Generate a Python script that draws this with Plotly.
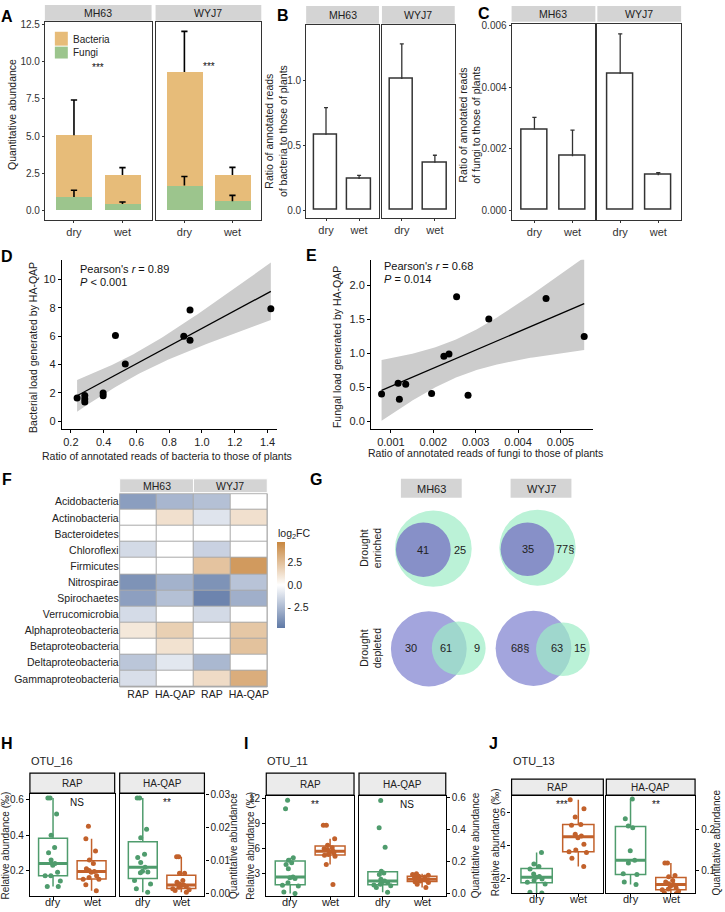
import numpy as np
import plotly.graph_objects as go

W, H = 725, 912
FONT = "Liberation Sans, Arial, Helvetica, sans-serif"

# ======================= DATA =======================
conditions = ["dry", "wet"]
cultivars = ["MH63", "WYJ7"]

# Panel A (stacked: fungi at bottom, bacteria on top; sd of total / fungi)
a_mh63_fungi = [0.89, 0.42]
a_mh63_fungi_sd = [0.45, 0.13]
a_mh63_bacteria = [4.16, 1.96]
a_mh63_total_sd = [2.38, 0.49]
a_wyj7_fungi = [1.67, 0.60]
a_wyj7_fungi_sd = [0.60, 0.40]
a_wyj7_bacteria = [7.65, 1.78]
a_wyj7_total_sd = [2.74, 0.51]
a_yticks = [0, 2.5, 5, 7.5, 10, 12.5]

# Panel B
b_mh63 = [0.58, 0.24]
b_mh63_sd = [0.21, 0.028]
b_wyj7 = [1.01, 0.365]
b_wyj7_sd = [0.27, 0.058]
b_yticks = [0, 0.5, 1.0]

# Panel C
c_mh63 = [0.00263, 0.00176]
c_mh63_sd = [0.00039, 0.00085]
c_wyj7 = [0.00444, 0.00114]
c_wyj7_sd = [0.00130, 0.00008]
c_yticks = [0, 0.002, 0.004, 0.006]

# Panel D
d_x = [0.238, 0.285, 0.285, 0.285, 0.397, 0.397, 0.472, 0.532, 0.889, 0.927, 0.927, 1.42]
d_y = [1.64, 1.82, 1.57, 1.36, 1.99, 1.80, 6.05, 4.04, 6.00, 7.85, 5.72, 7.94]
d_xticks = [0.2, 0.4, 0.6, 0.8, 1.0, 1.2, 1.4]
d_yticks = [0, 2, 4, 6, 8, 10]

# Panel E
e_x = [0.00078, 0.00117, 0.00120, 0.00135, 0.00196, 0.00225, 0.00237, 0.00255, 0.00282, 0.00331, 0.00466, 0.00556]
e_y = [0.404, 0.56, 0.326, 0.545, 0.409, 0.959, 0.993, 1.835, 0.384, 1.508, 1.81, 1.251]
e_xticks = [0.001, 0.002, 0.003, 0.004, 0.005]
e_yticks = [0, 0.5, 1.0, 1.5, 2.0]

# Panel F (log2FC)
f_phyla = ["Acidobacteria", "Actinobacteria", "Bacteroidetes", "Chloroflexi", "Firmicutes",
           "Nitrospirae", "Spirochaetes", "Verrucomicrobia", "Alphaproteobacteria",
           "Betaproteobacteria", "Deltaproteobacteria", "Gammaproteobacteria"]
f_methods = ["RAP", "HA-QAP", "RAP", "HA-QAP"]
f_mh63_rap = [-3.4, 0, 0, -1.3, 0, -3.8, -3.35, -1.25, 0.9, 0, -2.0, -1.15]
f_mh63_haqap = [-2.55, 1.2, 0, 0, 0, -2.7, -2.2, 0, 1.85, 1.15, -0.85, 0]
f_wyj7_rap = [-2.2, -0.95, 0, -1.6, 2.35, -3.8, -4.3, -1.3, 0, 0, -2.5, 1.4]
f_wyj7_haqap = [0, 1.2, 0, 0, 3.95, -2.1, -2.8, 0, 2.2, 2.4, 0, 3.2]
f_cbar_ticks = [-2.5, 0, 2.5]

# Panel G (Venn counts)
g_rows = ["Drought<br>enriched", "Drought<br>depleted"]
g_mh63_enriched = ["41", "25"]
g_wyj7_enriched = ["35", "77§"]
g_mh63_depleted = ["30", "61", "9"]
g_wyj7_depleted = ["68§", "63", "15"]

# Panels H, I, J (box plots)
h_title, i_title, j_title = "OTU_16", "OTU_11", "OTU_13"
h_rap_dry = [0.61, 0.61, 0.52, 0.40, 0.33, 0.30, 0.26, 0.24, 0.23, 0.19, 0.17, 0.17, 0.14, 0.11, 0.11]
h_rap_wet = [0.45, 0.38, 0.31, 0.26, 0.24, 0.21, 0.20, 0.195, 0.19, 0.17, 0.16, 0.15, 0.15, 0.12, 0.085]
h_haqap_dry = [0.029, 0.029, 0.0195, 0.017, 0.012, 0.011, 0.0095, 0.008, 0.0068, 0.0066, 0.0064, 0.004, 0.003, 0.0015, 0.0005]
h_haqap_wet = [0.0112, 0.0112, 0.0062, 0.0062, 0.004, 0.0035, 0.003, 0.0027, 0.0025, 0.0022, 0.002, 0.0015, 0.0012, 0.001, 0.0005]
i_rap_dry = [11.8, 10.8, 4.9, 4.6, 4.3, 4.1, 3.6, 2.6, 2.5, 2.4, 1.9, 1.6, 1.5, 0.8, 0.6]
i_rap_wet = [8.8, 8.8, 7.2, 6.4, 6.1, 6.0, 5.9, 5.7, 5.6, 5.5, 5.3, 5.2, 5.1, 4.1, 1.7]
i_haqap_dry = [0.58, 0.41, 0.29, 0.14, 0.13, 0.12, 0.09, 0.08, 0.075, 0.07, 0.06, 0.055, 0.05, 0.04, 0.01]
i_haqap_wet = [0.125, 0.12, 0.115, 0.11, 0.105, 0.10, 0.095, 0.09, 0.088, 0.085, 0.08, 0.075, 0.07, 0.06, 0.04]
j_rap_dry = [3.6, 2.9, 2.75, 2.6, 2.3, 2.15, 2.1, 2.0, 1.9, 1.8, 1.7, 1.2, 1.15]
j_rap_wet = [6.8, 6.25, 5.75, 5.3, 5.25, 4.7, 4.6, 4.5, 4.1, 3.75, 3.65, 3.6, 3.25, 2.75]
j_haqap_dry = [0.274, 0.226, 0.208, 0.204, 0.148, 0.125, 0.118, 0.092, 0.09, 0.072, 0.066]
j_haqap_wet = [0.118, 0.118, 0.088, 0.085, 0.076, 0.072, 0.068, 0.066, 0.062, 0.058, 0.055, 0.053, 0.05, 0.046, 0.044]
sig_h = ["NS", "**"]
sig_i = ["**", "NS"]
sig_j = ["***", "**"]
sig_a = ["***", "***"]

# ======================= STYLE =======================
ORANGE_A = "#e7bc79"
GREEN_A = "#9cc58d"
DRY_COL = "#4f9c6d"
WET_COL = "#c2612b"
STRIP = "#d4d4d4"

fig = go.Figure()
axes = {}
shapes = []
annots = []


def ax_names(i):
    return ("xaxis" if i == 1 else f"xaxis{i}", "yaxis" if i == 1 else f"yaxis{i}",
            "x" if i == 1 else f"x{i}", "y" if i == 1 else f"y{i}")


def set_axes(i, xpx, ypx, xkw, ykw):
    xn, yn, xr, yr = ax_names(i)
    axes[xn] = dict(domain=[xpx[0] / W, xpx[1] / W], anchor=yr, **xkw)
    axes[yn] = dict(domain=[1 - ypx[1] / H, 1 - ypx[0] / H], anchor=xr, **ykw)
    return xr, yr


def ann(text, x, y, size=10, xanchor="center", yanchor="middle", angle=0, bold=False, color="#1a1a1a"):
    if bold:
        text = f"<b>{text}</b>"
    annots.append(dict(text=text, x=x / W, y=1 - y / H, xref="paper", yref="paper",
                       showarrow=False, xanchor=xanchor, yanchor=yanchor, textangle=angle,
                       font=dict(size=size, family=FONT, color=color)))


def rect(x0, x1, y0, y1, fill, line_color=None, lw=0, layer="above"):
    shapes.append(dict(type="rect", xref="paper", yref="paper", x0=x0 / W, x1=x1 / W,
                       y0=1 - y1 / H, y1=1 - y0 / H, fillcolor=fill, layer=layer,
                       line=dict(color=line_color if line_color else fill, width=lw)))


def circle(cx, cy, r, fill, opacity=1.0):
    shapes.append(dict(type="circle", xref="paper", yref="paper", x0=(cx - r) / W, x1=(cx + r) / W,
                       y0=1 - (cy + r) / H, y1=1 - (cy - r) / H, fillcolor=fill, opacity=opacity,
                       line=dict(width=0), layer="above"))


def framed(**kw):
    d = dict(showline=True, mirror=True, linecolor="#333333", linewidth=1, showgrid=False,
             zeroline=False, ticks="outside", ticklen=2, tickcolor="#333333",
             tickfont=dict(size=10, color="#333333", family=FONT))
    d.update(kw)
    return d


def errbar(xs, base, sd, half):
    X, Y = [], []
    for x, b, s in zip(xs, base, sd):
        X += [x, x, None, x - half, x + half, None]
        Y += [b, b + s, None, b + s, b + s, None]
    return X, Y


xpos = [1, 2]
cat_x = dict(range=[0.4, 2.6], tickvals=xpos, ticktext=conditions)
XFONT = dict(size=11, color="#333", family=FONT)

# ======================= PANEL A =======================
a_yr = [-0.668, 12.70]
a_panels = [(1, (45, 152), a_mh63_fungi, a_mh63_fungi_sd, a_mh63_bacteria, a_mh63_total_sd),
            (2, (156, 262), a_wyj7_fungi, a_wyj7_fungi_sd, a_wyj7_bacteria, a_wyj7_total_sd)]
for k, (i, xp, fu, fusd, ba, tsd) in enumerate(a_panels):
    ykw = framed(range=a_yr, tickvals=a_yticks, ticktext=[f"{v:.1f}" for v in a_yticks])
    if k == 1:
        ykw.update(showticklabels=False, ticks="")
    xr, yr = set_axes(i, xp, (17, 217), framed(**cat_x, tickfont=XFONT), ykw)
    fig.add_trace(go.Bar(x=xpos, y=fu, width=0.74, marker=dict(color=GREEN_A, line=dict(width=0)),
                         xaxis=xr, yaxis=yr, showlegend=False))
    fig.add_trace(go.Bar(x=xpos, y=ba, base=fu, width=0.74, marker=dict(color=ORANGE_A, line=dict(width=0)),
                         xaxis=xr, yaxis=yr, showlegend=False))
    tot = [f + b for f, b in zip(fu, ba)]
    ex, ey = errbar(xpos, tot, tsd, 0.065)
    fig.add_trace(go.Scatter(x=ex, y=ey, mode="lines", line=dict(color="black", width=1.6),
                             xaxis=xr, yaxis=yr, showlegend=False, hoverinfo="skip"))
    ex, ey = errbar(xpos, fu, fusd, 0.065)
    fig.add_trace(go.Scatter(x=ex, y=ey, mode="lines", line=dict(color="black", width=1.6),
                             xaxis=xr, yaxis=yr, showlegend=False, hoverinfo="skip"))
    rect(xp[0], xp[1], 0, 16, STRIP)
    ann(cultivars[k], (xp[0] + xp[1]) / 2, 8.5, size=10.5, color="#222")
ann(sig_a[0], 98, 63, size=10, color="#111")
ann(sig_a[1], 210, 62, size=10, color="#111")
# legend of A
rect(55, 68, 27, 41, ORANGE_A)
rect(55, 68, 42, 54, GREEN_A)
ann("Bacteria", 71, 34.5, size=10, xanchor="left", color="#222")
ann("Fungi", 71, 48, size=10, xanchor="left", color="#222")
ann("Quantitative abundance", 12, 110, size=10.5, angle=-90, color="#222")

# ======================= PANEL B =======================
b_yr = [-0.061, 1.427]
for k, (i, xp, vals, sd) in enumerate([(3, (307, 380), b_mh63, b_mh63_sd), (4, (383, 456), b_wyj7, b_wyj7_sd)]):
    ykw = framed(range=b_yr, tickvals=b_yticks, ticktext=[f"{v:.1f}" for v in b_yticks])
    if k == 1:
        ykw.update(showticklabels=False, ticks="")
    xr, yr = set_axes(i, xp, (20, 215), framed(**cat_x, tickfont=XFONT), ykw)
    ex, ey = errbar(xpos, vals, sd, 0.06)
    fig.add_trace(go.Scatter(x=ex, y=ey, mode="lines", line=dict(color="#333333", width=1.3),
                             xaxis=xr, yaxis=yr, showlegend=False, hoverinfo="skip"))
    fig.add_trace(go.Bar(x=xpos, y=vals, width=0.7, marker=dict(color="white", line=dict(color="#333333", width=1.5)),
                         xaxis=xr, yaxis=yr, showlegend=False))
    rect(xp[0], xp[1], 1, 19, STRIP)
    ann(cultivars[k], (xp[0] + xp[1]) / 2, 10, size=10.5, color="#222")
ann("Ratio of annotated reads<br>of bacteria to those of plants", 277, 127, size=10.5, angle=-90, color="#222")

# ======================= PANEL C =======================
c_yr = [-0.00032, 0.006065]
for k, (i, xp, vals, sd) in enumerate([(5, (513, 597), c_mh63, c_mh63_sd), (6, (599, 683), c_wyj7, c_wyj7_sd)]):
    ykw = framed(range=c_yr, tickvals=c_yticks, ticktext=[f"{v:.3f}" for v in c_yticks])
    if k == 1:
        ykw.update(showticklabels=False, ticks="")
    xr, yr = set_axes(i, xp, (19, 217), framed(**cat_x, tickfont=XFONT), ykw)
    ex, ey = errbar(xpos, vals, sd, 0.055)
    fig.add_trace(go.Scatter(x=ex, y=ey, mode="lines", line=dict(color="#333333", width=1.3),
                             xaxis=xr, yaxis=yr, showlegend=False, hoverinfo="skip"))
    fig.add_trace(go.Bar(x=xpos, y=vals, width=0.7, marker=dict(color="white", line=dict(color="#333333", width=1.5)),
                         xaxis=xr, yaxis=yr, showlegend=False))
    rect(xp[0], xp[1], 1, 17, STRIP)
    ann(cultivars[k], (xp[0] + xp[1]) / 2, 9, size=10.5, color="#222")
ann("Ratio of annotated reads<br>of fungi to those of plants", 471, 121, size=10.5, angle=-90, color="#222")


# ======================= PANELS D, E =======================
def smooth(xv, yv, n_grid=80, tcrit=2.228):
    xv = np.asarray(xv, float)
    yv = np.asarray(yv, float)
    b, a = np.polyfit(xv, yv, 1)
    n = len(xv)
    resid = yv - (a + b * xv)
    s = np.sqrt(np.sum(resid ** 2) / (n - 2))
    xm = xv.mean()
    sxx = np.sum((xv - xm) ** 2)
    g = np.linspace(xv.min(), xv.max(), n_grid)
    fit = a + b * g
    se = s * np.sqrt(1 / n + (g - xm) ** 2 / sxx)
    return g, fit, fit - tcrit * se, fit + tcrit * se


def classic(**kw):
    d = dict(showline=True, mirror=False, linecolor="black", linewidth=1, showgrid=False, zeroline=False,
             ticks="outside", ticklen=3, tickcolor="black", tickfont=dict(size=11, color="#222", family=FONT))
    d.update(kw)
    return d


for (i, xp, xv, yv, xrng, yrng, xt, yt, xfmt, yfmt) in [
        (7, (62, 278), d_x, d_y, [0.145, 1.459], [-0.56, 11.4], d_xticks, d_yticks, "{:.1f}", "{:d}"),
        (8, (372, 595), e_x, e_y, [0.00053, 0.005776], [-0.117, 2.38], e_xticks, e_yticks, "{:.3f}", "{:.1f}")]:
    xr, yr = set_axes(i, xp, (257, 428),
                      classic(range=xrng, tickvals=xt, ticktext=[xfmt.format(v) for v in xt]),
                      classic(range=yrng, tickvals=yt, ticktext=[yfmt.format(v) for v in yt]))
    g, fit, lo, hi = smooth(xv, yv)
    fig.add_trace(go.Scatter(x=np.concatenate([g, g[::-1]]), y=np.concatenate([hi, lo[::-1]]),
                             fill="toself", fillcolor="#cccccc", line=dict(width=0), mode="lines",
                             xaxis=xr, yaxis=yr, showlegend=False, hoverinfo="skip"))
    fig.add_trace(go.Scatter(x=g, y=fit, mode="lines", line=dict(color="black", width=1.3),
                             xaxis=xr, yaxis=yr, showlegend=False, hoverinfo="skip"))
    fig.add_trace(go.Scatter(x=xv, y=yv, mode="markers", marker=dict(color="black", size=7),
                             xaxis=xr, yaxis=yr, showlegend=False))

ann("Pearson's <i>r</i> = 0.89", 78, 266, size=11, xanchor="left", color="#111")
ann("<i>P</i> < 0.001", 78, 279, size=11, xanchor="left", color="#111")
ann("Bacterial load generated by HA-QAP", 33, 345, size=10.5, angle=-90, color="#222")
ann("Ratio of annotated reads of bacteria to those of plants", 167, 455, size=10.5, color="#222")
ann("Pearson's <i>r</i> = 0.68", 383, 263, size=11, xanchor="left", color="#111")
ann("<i>P</i> = 0.014", 383, 276, size=11, xanchor="left", color="#111")
ann("Fungal load generated by HA-QAP", 338, 345, size=10.5, angle=-90, color="#222")
ann("Ratio of annotated reads of fungi to those of plants", 487, 452, size=10.5, color="#222")

# ======================= PANEL F =======================
z = [list(r) for r in zip(f_mh63_rap, f_mh63_haqap, f_wyj7_rap, f_wyj7_haqap)]
fx = list(range(len(f_methods)))
xr, yr = set_axes(9, (120, 268), (493, 688),
                  dict(range=[-0.5, 3.5], tickvals=fx, ticktext=f_methods, showgrid=False, zeroline=False,
                       showline=False, ticks="", tickfont=dict(size=10.5, color="#222", family=FONT)),
                  dict(type="category", autorange="reversed", showgrid=False, zeroline=False, showline=False,
                       ticks="", ticklen=0, tickfont=dict(size=10.5, color="#222", family=FONT)))
rect(120, 268, 493, 688, "#a9a9a9", layer="below")
fig.add_trace(go.Heatmap(z=z, x=fx, y=f_phyla, xaxis=xr, yaxis=yr, zmin=-4.7, zmax=4.7, xgap=1, ygap=1,
                         colorscale=[[0, "#5f79a6"], [0.5, "#ffffff"], [1, "#c8873f"]],
                         colorbar=dict(x=278 / W, xanchor="left", y=1 - 585 / H, yanchor="middle",
                                       len=86, lenmode="pixels", thickness=8, thicknessmode="pixels",
                                       outlinewidth=0, xpad=0, ypad=0, ticks="",
                                       tickvals=f_cbar_ticks, ticktext=["- 2.5", "0.0", "2.5"],
                                       tickfont=dict(size=10.5, color="#222", family=FONT)),
                         showscale=True))
shapes.append(dict(type="rect", xref="paper", yref="paper", x0=120 / W, x1=268 / W, y0=1 - 688 / H,
                   y1=1 - 493 / H, line=dict(color="#a9a9a9", width=1), fillcolor="rgba(0,0,0,0)"))
rect(120, 194, 478, 492, STRIP, "white", 1)
rect(194, 268, 478, 492, STRIP, "white", 1)
ann(cultivars[0], 157, 485.5, size=10.5, color="#222")
ann(cultivars[1], 231, 485.5, size=10.5, color="#222")
ann("log<sub>2</sub>FC", 277, 534, size=10.5, xanchor="left", color="#222")

# ======================= PANEL G =======================
G_GREEN = "#bbf2d7"
G_PURPLE_DARK = "#8790c8"
G_PURPLE = "#a3a5dd"
G_GREEN_OVER = "rgb(156,236,198)"
rect(402, 463, 478, 497, STRIP)
rect(512, 573, 478, 497, STRIP)
ann(cultivars[0], 432.5, 488, size=11, color="#222")
ann(cultivars[1], 542.5, 488, size=11, color="#222")
# enriched
circle(434.5, 548.5, 38.5, G_GREEN)
circle(424.5, 549.5, 27.5, G_PURPLE_DARK)
circle(539, 547.5, 38.3, G_GREEN)
circle(529, 549, 27, G_PURPLE_DARK)
# depleted
circle(430, 649.5, 38, G_PURPLE)
circle(460, 649, 27, G_GREEN_OVER, opacity=0.7)
circle(535, 649, 38, G_PURPLE)
circle(564.5, 650, 27, G_GREEN_OVER, opacity=0.7)
for txt, x in zip(g_mh63_enriched, [424, 461]):
    ann(txt, x, 550, size=11, color="#222")
for txt, x in zip(g_wyj7_enriched, [529, 567]):
    ann(txt, x, 549, size=11, color="#222")
for txt, x in zip(g_mh63_depleted, [412, 447, 478]):
    ann(txt, x, 649, size=11, color="#222")
for txt, x in zip(g_wyj7_depleted, [521, 559, 582]):
    ann(txt, x, 649, size=11, color="#222")
ann(g_rows[0], 372, 548, size=10.5, angle=-90, color="#222")
ann(g_rows[1], 372, 649, size=10.5, angle=-90, color="#222")

# ======================= PANELS H, I, J =======================
box_x = dict(range=[-0.6, 1.6], tickvals=[0, 1], ticktext=conditions, showticklabels=False)


def boxaxis(**kw):
    d = dict(showline=True, mirror=True, linecolor="black", linewidth=1.2, showgrid=False, zeroline=False,
             ticks="outside", ticklen=3, tickcolor="black", tickfont=dict(size=10, color="#222", family=FONT))
    d.update(kw)
    return d


def add_boxes(xr, yr, dry, wet):
    for xv, vals, col in [(0, dry, DRY_COL), (1, wet, WET_COL)]:
        fig.add_trace(go.Box(y=vals, x0=xv, boxpoints="all", jitter=0.7, pointpos=0, width=0.75,
                             whiskerwidth=0, fillcolor="rgba(255,255,255,0)",
                             line=dict(color=col, width=1.5), marker=dict(color=col, size=5),
                             xaxis=xr, yaxis=yr, showlegend=False))
        med = float(np.median(vals))
        fig.add_trace(go.Scatter(x=[xv - 0.375, xv + 0.375], y=[med, med], mode="lines",
                                 line=dict(color=col, width=3), xaxis=xr, yaxis=yr,
                                 showlegend=False, hoverinfo="skip"))


bx_panels = [
    (10, 11, (30, 115), (120, 205), (775, 795), (796, 899),
     ([0.055, 0.633], [0.2, 0.4, 0.6], "{:.1f}"), ([-0.0007, 0.0302], [0, 0.01, 0.02, 0.03], "{:.2f}"),
     (h_rap_dry, h_rap_wet, h_haqap_dry, h_haqap_wet), sig_h, h_title),
    (12, 13, (267, 355), (360, 447), (775, 797), (798, 899),
     ([0.3, 12.32], [3, 6, 9, 12], "{:d}"), ([-0.014, 0.608], [0, 0.2, 0.4, 0.6], "{:.1f}"),
     (i_rap_dry, i_rap_wet, i_haqap_dry, i_haqap_wet), sig_i, i_title),
    (14, 15, (513, 605), (608, 697), (781, 797), (798, 896),
     ([1.14, 7.02], [2, 4, 6], "{:d}"), ([0.045, 0.281], [0.1, 0.2], "{:.1f}"),
     (j_rap_dry, j_rap_wet, j_haqap_dry, j_haqap_wet), sig_j, j_title),
]
for (li, ri, xl, xh, sy, py_, lax, rax, data, sig, title) in bx_panels:
    xr, yr = set_axes(li, xl, py_, boxaxis(**box_x),
                      boxaxis(range=lax[0], tickvals=lax[1], ticktext=[lax[2].format(v) for v in lax[1]]))
    add_boxes(xr, yr, data[0], data[1])
    xr, yr = set_axes(ri, xh, py_, boxaxis(**box_x),
                      boxaxis(range=rax[0], tickvals=rax[1], ticktext=[rax[2].format(v) for v in rax[1]],
                              side="right"))
    add_boxes(xr, yr, data[2], data[3])
    for (x0, x1), lab, s in [(xl, "RAP", sig[0]), (xh, "HA-QAP", sig[1])]:
        rect(x0, x1, sy[0], sy[1], "#ebebeb", "black", 1.2)
        ann(lab, (x0 + x1) / 2, (sy[0] + sy[1]) / 2 + 0.5, size=10, color="#222")
        ann(s, (x0 + x1) / 2 + 5, py_[0] + 9, size=10, color="#111")
        span = x1 - x0
        for cx, lab2 in zip([0, 1], conditions):
            ann(lab2, x0 + span * (cx + 0.6) / 2.2, py_[1] + 5.5, size=11, color="#222")
    ann(title, xl[0] - 1, 763, size=11, xanchor="left", color="#222")

ann("Relative abundance (‰)", 6, 848, size=10, angle=-90, color="#222")
ann("Quantitative abundance", 234, 848, size=10, angle=-90, color="#222")
ann("Relative abundance (‰)", 251, 848, size=10, angle=-90, color="#222")
ann("Quantitative abundance", 477, 848, size=10, angle=-90, color="#222")
ann("Relative abundance (‰)", 497, 845, size=10, angle=-90, color="#222")
ann("Quantitative abundance", 719, 845, size=10, angle=-90, color="#222")

# ======================= panel letters =======================
for letter, x, y in [("A", 7, 12), ("B", 284, 11), ("C", 485, 9), ("D", 7, 254), ("E", 312, 253),
                     ("F", 7, 479), ("G", 317, 479), ("H", 7, 745), ("I", 247, 745), ("J", 495, 745)]:
    ann(letter, x, y, size=16, bold=True, color="black")

fig.update_layout(width=W, height=H, margin=dict(l=0, r=0, t=0, b=0), paper_bgcolor="white",
                  plot_bgcolor="rgba(0,0,0,0)", showlegend=False, boxmode="overlay", barmode="overlay",
                  bargap=0, font=dict(family=FONT), shapes=shapes, annotations=annots, **axes)
fig.write_html("out.html", config={"displayModeBar": False},
               post_script="document.body.style.margin='0';document.body.style.overflow='hidden';")
